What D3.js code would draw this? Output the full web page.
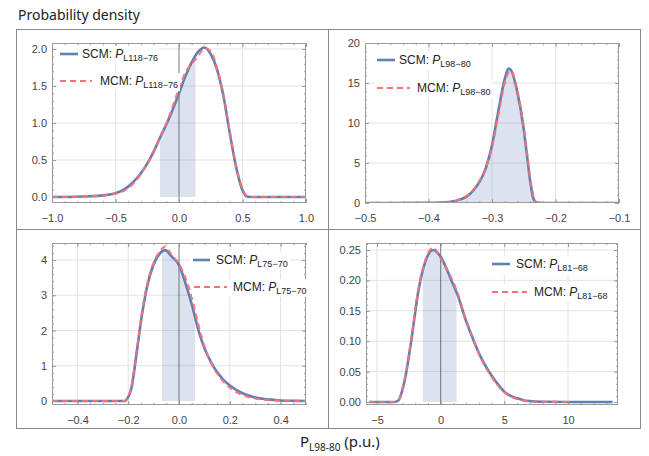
<!DOCTYPE html>
<html>
<head>
<meta charset="utf-8">
<script src="https://cdn.jsdelivr.net/npm/d3@7"></script>
<style>
  body { margin: 0; background: #fff; }
  svg { display: block; }
</style>
</head>
<body>
<svg id="chart" width="649" height="456"></svg>
<script>
// ---- data ----
var p1X   = [-1.0, -0.8, -0.7, -0.6, -0.5, -0.45, -0.4, -0.35, -0.3, -0.25, -0.2, -0.15, -0.1, -0.05, 0, 0.05, 0.1, 0.15, 0.2, 0.25, 0.3, 0.35, 0.4, 0.45, 0.5, 0.53, 0.56, 0.7, 1.0];
var p1SCM = [0, 0.004, 0.01, 0.022, 0.05, 0.085, 0.14, 0.22, 0.32, 0.45, 0.61, 0.80, 0.98, 1.18, 1.40, 1.63, 1.82, 1.96, 2.02, 1.93, 1.72, 1.36, 0.86, 0.40, 0.09, 0.01, 0, 0, 0];
var p1MCM = [0, 0.004, 0.01, 0.02, 0.045, 0.07, 0.12, 0.20, 0.31, 0.45, 0.62, 0.80, 0.99, 1.22, 1.47, 1.68, 1.80, 1.90, 2.01, 1.97, 1.74, 1.38, 0.88, 0.42, 0.11, 0.02, 0, 0, 0];

var p2X   = [-0.5, -0.4, -0.38, -0.36, -0.35, -0.34, -0.33, -0.32, -0.31, -0.30, -0.29, -0.28, -0.274, -0.27, -0.26, -0.25, -0.245, -0.24, -0.235, -0.23, -0.22, -0.1];
var p2SCM = [0, 0.01, 0.05, 0.2, 0.45, 0.8, 1.5, 2.6, 4.3, 7.2, 11.5, 15.5, 16.8, 16.6, 13.8, 9.2, 6.0, 2.8, 0.6, 0.05, 0, 0];
var p2MCM = [0, 0.01, 0.06, 0.22, 0.5, 0.9, 1.6, 2.7, 4.4, 7.0, 11.0, 15.0, 16.3, 16.5, 14.0, 9.5, 6.4, 3.2, 1.0, 0.1, 0, 0];

var p3X   = [-0.5, -0.3, -0.215, -0.205, -0.186, -0.167, -0.147, -0.127, -0.101, -0.075, -0.055, -0.029, 0, 0.025, 0.05, 0.075, 0.1, 0.125, 0.15, 0.175, 0.2, 0.25, 0.3, 0.35, 0.4, 0.45, 0.5];
var p3SCM = [0, 0, 0, 0.05, 0.41, 1.35, 2.39, 3.2, 3.86, 4.19, 4.28, 4.1, 3.86, 3.35, 2.75, 2.05, 1.5, 1.12, 0.82, 0.6, 0.44, 0.22, 0.1, 0.045, 0.015, 0.004, 0];
var p3MCM = [0, 0, 0, 0.06, 0.45, 1.4, 2.45, 3.25, 3.9, 4.25, 4.38, 4.15, 3.88, 3.5, 2.95, 2.2, 1.55, 1.1, 0.78, 0.55, 0.38, 0.17, 0.07, 0.03, 0.01, 0.003, 0];

var p4X   = [-5.6, -3.6, -3.35, -2.82, -2.3, -1.78, -1.25, -0.6, 0, 0.84, 1.4, 1.88, 2.4, 2.93, 3.4, 3.98, 4.5, 5.0, 5.5, 6.0, 6.5, 7.0, 8.0, 10.0, 13.5];
var p4SCM = [0, 0, 0.002, 0.036, 0.102, 0.179, 0.228, 0.250, 0.239, 0.200, 0.172, 0.140, 0.111, 0.084, 0.064, 0.044, 0.029, 0.017, 0.010, 0.006, 0.003, 0.0015, 0.0003, 0, 0];
var p4MCM = [0, 0, 0.002, 0.038, 0.105, 0.182, 0.230, 0.254, 0.236, 0.204, 0.175, 0.142, 0.112, 0.083, 0.062, 0.042, 0.027, 0.016, 0.009, 0.005, 0.0025, 0.001, 0.0002, 0];

var names = ["L118\u221276", "L98\u221280", "L75\u221270", "L81\u221268"];

var p1XTicks = [-1, -0.5, 0, 0.5, 1],          p1YTicks = [0, 0.5, 1, 1.5, 2];
var p2XTicks = [-0.5, -0.4, -0.3, -0.2, -0.1], p2YTicks = [0, 5, 10, 15, 20];
var p3XTicks = [-0.4, -0.2, 0, 0.2, 0.4],      p3YTicks = [0, 1, 2, 3, 4];
var p4XTicks = [-5, 0, 5, 10],                 p4YTicks = [0, 0.05, 0.1, 0.15, 0.2, 0.25];

var scmColor = "#5e81b5", mcmColor = "#ff6f73", frameColor = "#9a9a9a", gridColor = "#e3e3e3";
var font = "'Liberation Sans', Arial, sans-serif";

var svg = d3.select("#chart");

// outer boxes
svg.append("rect").attr("x", 16.5).attr("y", 29.5).attr("width", 624).attr("height", 399)
  .attr("fill", "none").attr("stroke", "#8a8a8a");
svg.append("line").attr("x1", 328.5).attr("x2", 328.5).attr("y1", 29.5).attr("y2", 428.5).attr("stroke", "#8a8a8a");
svg.append("line").attr("x1", 16.5).attr("x2", 640.5).attr("y1", 229.5).attr("y2", 229.5).attr("stroke", "#8a8a8a");

svg.append("text").attr("x", 18).attr("y", 20)
  .style("font-family", "'Noto Sans', sans-serif").style("font-size", "14px").attr("fill", "#222")
  .text("Probability density");

var xl = svg.append("text").attr("x", 300).attr("y", 447)
  .style("font-family", "'Noto Sans', sans-serif").style("font-size", "15px").attr("fill", "#222");
xl.append("tspan").text("P");
xl.append("tspan").attr("dy", 4).style("font-size", "10px").text("L98-80");
xl.append("tspan").attr("dy", -4).text(" (p.u.)");

function fmt(dec) {
  return function (d) { return d3.format("." + dec + "f")(d).replace("-", "\u2212"); };
}

function range(a, b, s) {
  var out = [];
  for (var v = a; v <= b + s / 1000; v += s) out.push(+v.toFixed(6));
  return out;
}

function drawPanel(cfg, idx) {
  var x = d3.scaleLinear().domain(cfg.xd).range(cfg.xr);
  var y = d3.scaleLinear().domain(cfg.yd).range(cfg.yr);
  var L = cfg.frame[0], R = cfg.frame[1], T = cfg.frame[2], B = cfg.frame[3];
  var g = svg.append("g");

  var clipId = "clip" + idx;
  svg.append("clipPath").attr("id", clipId).append("rect")
    .attr("x", L).attr("y", T).attr("width", R - L).attr("height", B - T);

  // grid
  g.selectAll(".gx").data(cfg.xGrid).enter().append("line")
    .attr("x1", function (d) { return x(d); }).attr("x2", function (d) { return x(d); })
    .attr("y1", T).attr("y2", B).attr("stroke", gridColor);
  g.selectAll(".gy").data(cfg.yGrid).enter().append("line")
    .attr("y1", function (d) { return y(d); }).attr("y2", function (d) { return y(d); })
    .attr("x1", L).attr("x2", R).attr("stroke", gridColor);

  var pts = cfg.xs.map(function (d, i) { return [d, cfg.scm[i]]; });
  var ptsM = cfg.mcm.map(function (d, i) { return [cfg.xs[i], d]; });

  // shaded region under SCM curve
  var sx0 = cfg.shade[0], sx1 = cfg.shade[1];
  var shadeClip = "shade" + idx;
  svg.append("clipPath").attr("id", shadeClip).append("rect")
    .attr("x", x(sx0)).attr("y", T).attr("width", x(sx1) - x(sx0)).attr("height", B - T);
  var area = d3.area().curve(d3.curveMonotoneX)
    .x(function (d) { return x(d[0]); }).y0(y(0)).y1(function (d) { return y(d[1]); });
  g.append("g").attr("clip-path", "url(#" + clipId + ")")
    .append("path").attr("d", area(pts)).attr("fill", scmColor).attr("fill-opacity", 0.22)
    .attr("clip-path", "url(#" + shadeClip + ")");

  // zero axis
  if (cfg.xd[0] < 0 && cfg.xd[1] > 0 && x(0) > L && x(0) < R) {
    g.append("line").attr("x1", x(0)).attr("x2", x(0)).attr("y1", T).attr("y2", B)
      .attr("stroke", "#555").attr("stroke-width", 0.8);
  }

  var line = d3.line().curve(d3.curveMonotoneX)
    .x(function (d) { return x(d[0]); }).y(function (d) { return y(d[1]); });
  var cg = g.append("g").attr("clip-path", "url(#" + clipId + ")");
  cg.append("path").attr("d", line(pts)).attr("fill", "none")
    .attr("stroke", scmColor).attr("stroke-width", 2.6).attr("stroke-linejoin", "round");
  cg.append("path").attr("d", line(ptsM)).attr("fill", "none")
    .attr("stroke", mcmColor).attr("stroke-opacity", 0.9).attr("stroke-width", 2.2)
    .attr("stroke-dasharray", "6,4");

  // frame axes with major + minor ticks
  function ax(gen, scale, vals, size, label, transform) {
    var a = gen(scale).tickValues(vals).tickSizeInner(size).tickSizeOuter(0).tickPadding(5);
    a.tickFormat(label ? cfg.fmt[label] : "");
    var s = g.append("g").attr("transform", transform).call(a);
    s.select(".domain").remove();
    s.selectAll(".tick line").attr("stroke", frameColor);
    s.selectAll(".tick text").style("font-family", font).style("font-size", "11px").attr("fill", "#444");
    return s;
  }
  ax(d3.axisBottom, x, cfg.xTicks, -4, "x", "translate(0," + B + ")").selectAll("text").attr("dy", "1.25em");
  ax(d3.axisBottom, x, cfg.xMinor, -2, null, "translate(0," + B + ")");
  ax(d3.axisTop, x, cfg.xTicks, -4, null, "translate(0," + T + ")");
  ax(d3.axisTop, x, cfg.xMinor, -2, null, "translate(0," + T + ")");
  ax(d3.axisLeft, y, cfg.yTicks, -4, "y", "translate(" + L + ",0)");
  ax(d3.axisLeft, y, cfg.yMinor, -2, null, "translate(" + L + ",0)");
  ax(d3.axisRight, y, cfg.yTicks, -4, null, "translate(" + R + ",0)");
  ax(d3.axisRight, y, cfg.yMinor, -2, null, "translate(" + R + ",0)");

  g.append("rect").attr("x", L + 0.5).attr("y", T + 0.5).attr("width", R - L - 1).attr("height", B - T - 1)
    .attr("fill", "none").attr("stroke", frameColor);

  // legend
  var lg = g.append("g");
  [["SCM", cfg.leg[0]], ["MCM", cfg.leg[1]]].forEach(function (it, k) {
    var p = it[1]; // [x1, x2, y, textX]
    var t = lg.append("text").attr("x", p[3]).attr("y", p[2] + 4)
      .style("font-family", font).style("font-size", "12px").attr("fill", "#222");
    t.append("tspan").text(it[0] + ": ");
    t.append("tspan").style("font-style", "italic").text("P");
    t.append("tspan").attr("dy", 3).style("font-size", "9px").text(names[idx]);
    var bb = t.node().getBBox();
    lg.insert("rect", "text").attr("x", p[0] - 2).attr("y", bb.y - 1).attr("width", bb.x + bb.width - p[0] + 4)
      .attr("height", bb.height + 2).attr("fill", "#fff");
    var ln = lg.append("line").attr("x1", p[0]).attr("x2", p[1]).attr("y1", p[2]).attr("y2", p[2]);
    if (k === 0) ln.attr("stroke", scmColor).attr("stroke-width", 2.6);
    else ln.attr("stroke", mcmColor).attr("stroke-width", 2.2).attr("stroke-dasharray", "6,4");
  });
}

drawPanel({
  xs: p1X, scm: p1SCM, mcm: p1MCM,
  xd: [-1, 1], xr: [52, 306], yd: [0, 2], yr: [197, 49], frame: [52, 306, 43, 203],
  xTicks: p1XTicks, yTicks: p1YTicks, xMinor: range(-1, 1, 0.1), yMinor: range(0, 2, 0.1),
  xGrid: [-0.5, 0.5], yGrid: [0.5, 1, 1.5, 2],
  fmt: { x: fmt(1), y: fmt(1) }, shade: [-0.15, 0.13],
  leg: [[60, 78, 54, 82], [60, 92, 81, 100]]
}, 0);

drawPanel({
  xs: p2X, scm: p2SCM, mcm: p2MCM,
  xd: [-0.5, -0.1], xr: [365, 619], yd: [0, 20], yr: [203, 43], frame: [365, 619, 43, 203],
  xTicks: p2XTicks, yTicks: p2YTicks, xMinor: range(-0.5, -0.1, 0.02), yMinor: range(0, 20, 1),
  xGrid: [-0.4, -0.3, -0.2], yGrid: [5, 10, 15],
  fmt: { x: fmt(1), y: fmt(0) }, shade: [-0.5, -0.1],
  leg: [[377, 395, 60, 399], [377, 410, 88, 417]]
}, 1);

drawPanel({
  xs: p3X, scm: p3SCM, mcm: p3MCM,
  xd: [-0.5, 0.5], xr: [52, 306], yd: [0, 4], yr: [401, 260], frame: [52, 306, 243, 405],
  xTicks: p3XTicks, yTicks: p3YTicks, xMinor: range(-0.5, 0.5, 0.05), yMinor: range(0, 4.4, 0.2),
  xGrid: [-0.4, -0.2, 0.2, 0.4], yGrid: [1, 2, 3, 4],
  fmt: { x: fmt(1), y: fmt(0) }, shade: [-0.067, 0.063],
  leg: [[193, 210, 260, 216], [194, 227, 287, 233]]
}, 2);

drawPanel({
  xs: p4X, scm: p4SCM, mcm: p4MCM,
  xd: [-5, 10], xr: [377, 568], yd: [0, 0.25], yr: [402, 250], frame: [366, 618, 243, 405],
  xTicks: p4XTicks, yTicks: p4YTicks, xMinor: range(-5, 13, 1), yMinor: range(0, 0.26, 0.01),
  xGrid: [-5, 5, 10], yGrid: [0.05, 0.1, 0.15, 0.2, 0.25],
  fmt: { x: fmt(0), y: fmt(2) }, shade: [-1.4, 1.25],
  leg: [[492, 510, 264, 516], [492, 527, 292, 534]]
}, 3);
</script>
</body>
</html>
